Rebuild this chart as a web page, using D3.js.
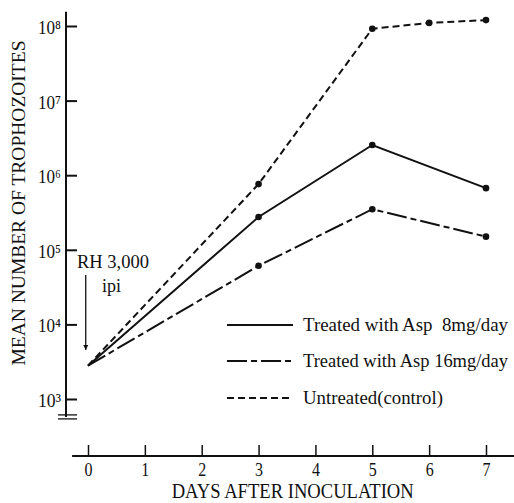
<!DOCTYPE html>
<html>
<head>
<meta charset="utf-8">
<script src="https://cdn.jsdelivr.net/npm/d3@7"></script>
<style>
  body { margin: 0; background: #fff; }
  text { font-family: "Liberation Serif", "DejaVu Serif", serif; fill: #111; white-space: pre; }
</style>
</head>
<body>
<div id="chart"></div>
<script>
// data
const days = [0, 3, 5, 6, 7];
const untreated = [2800, 760000, 92000000, 110000000, 120000000];
const asp8Days = [0, 3, 5, 7];
const asp8 = [2800, 275000, 2540000, 670000];
const asp16Days = [0, 3, 5, 7];
const asp16 = [2800, 61000, 350000, 150000];
const yTicks = [3, 4, 5, 6, 7, 8];
const xTicks = [0, 1, 2, 3, 4, 5, 6, 7];
const legendLabels = ["Treated with Asp  8mg/day", "Treated with Asp 16mg/day", "Untreated(control)"];

const width = 514;
const height = 503;
const sup = "⁰¹²³⁴⁵⁶⁷⁸⁹";

const xScale = d3.scaleLinear().domain([0, 7]).range([88, 486]);
const yScale = d3.scaleLog().domain([1e3, 1e8]).range([399, 26]);

const svg = d3.select("#chart")
    .append("svg")
    .attr("width", width)
    .attr("height", height);

// y axis, ticks point into the plot
const yAxis = svg.append("g")
    .attr("transform", "translate(66,0)")
    .call(d3.axisLeft(yScale)
        .tickValues(yTicks.map(e => Math.pow(10, e)))
        .tickSizeInner(-11)
        .tickSizeOuter(0)
        .tickFormat(""));
yAxis.select(".domain").remove();
yAxis.selectAll(".tick line").attr("stroke", "#111").attr("stroke-width", 2);

const yTop = yScale(Math.pow(10, 8.19));
const yBot = yScale(Math.pow(10, 2.76));
svg.append("line")
    .attr("x1", 66).attr("x2", 66)
    .attr("y1", yTop).attr("y2", yBot)
    .attr("stroke", "#111").attr("stroke-width", 2);
// break mark at the bottom
[yBot - 2, yBot + 2].forEach(y => {
  svg.append("line")
      .attr("x1", 58).attr("x2", 77)
      .attr("y1", y).attr("y2", y)
      .attr("stroke", "#111").attr("stroke-width", 1.3);
});

// tick labels 10^n
yTicks.forEach(e => {
  svg.append("text")
      .attr("x", 38)
      .attr("y", yScale(Math.pow(10, e)) + 8)
      .attr("font-size", 19)
      .attr("textLength", 23)
      .attr("lengthAdjust", "spacingAndGlyphs")
      .text("10" + sup[e]);
});

svg.append("text")
    .attr("transform", "translate(25,203) rotate(-90)")
    .attr("text-anchor", "middle")
    .attr("font-size", 18)
    .attr("textLength", 325)
    .attr("lengthAdjust", "spacingAndGlyphs")
    .text("MEAN NUMBER OF TROPHOZOITES");

// x axis, ticks point up
const xAxis = svg.append("g")
    .attr("transform", "translate(0,456)")
    .call(d3.axisBottom(xScale)
        .tickValues(xTicks)
        .tickSizeInner(-11)
        .tickSizeOuter(0)
        .tickPadding(7)
        .tickFormat(d3.format("d")));
xAxis.select(".domain").remove();
xAxis.selectAll(".tick line").attr("stroke", "#111").attr("stroke-width", 1.5);
xAxis.selectAll(".tick text")
    .attr("font-size", 19)
    .attr("fill", "#111")
    .attr("textLength", 8)
    .attr("lengthAdjust", "spacingAndGlyphs");
svg.append("line")
    .attr("x1", xScale(-0.28)).attr("x2", width)
    .attr("y1", 456).attr("y2", 456)
    .attr("stroke", "#111").attr("stroke-width", 2);

svg.append("text")
    .attr("x", xScale(3.6))
    .attr("y", 498)
    .attr("text-anchor", "middle")
    .attr("font-size", 20)
    .attr("textLength", 242)
    .attr("lengthAdjust", "spacingAndGlyphs")
    .text("DAYS AFTER INOCULATION");

// series
const series = [
  { x: asp8Days, y: asp8, dash: null },
  { x: asp16Days, y: asp16, dash: "20,4,6,4" },
  { x: days, y: untreated, dash: "7,4" }
];

const line = d3.line()
    .x(d => xScale(d[0]))
    .y(d => yScale(d[1]));

series.forEach(s => {
  const pts = s.x.map((d, i) => [d, s.y[i]]);
  svg.append("path")
      .datum(pts)
      .attr("d", line)
      .attr("fill", "none")
      .attr("stroke", "#111")
      .attr("stroke-width", 2)
      .attr("stroke-dasharray", s.dash);
  svg.selectAll(null)
      .data(pts.slice(1))
      .enter()
      .append("circle")
      .attr("cx", d => xScale(d[0]))
      .attr("cy", d => yScale(d[1]))
      .attr("r", 3.3)
      .attr("fill", "#111");
});

// inoculation arrow
svg.append("defs").append("marker")
    .attr("id", "arr")
    .attr("viewBox", "0 0 10 10")
    .attr("refX", 10).attr("refY", 5)
    .attr("markerWidth", 5).attr("markerHeight", 9)
    .attr("orient", "auto")
    .attr("markerUnits", "userSpaceOnUse")
    .append("path")
    .attr("d", "M0,0 L10,5 L0,10 Z")
    .attr("fill", "#111");
svg.append("line")
    .attr("x1", xScale(-0.04)).attr("x2", xScale(-0.04))
    .attr("y1", 275).attr("y2", 350)
    .attr("stroke", "#111").attr("stroke-width", 1.3)
    .attr("marker-end", "url(#arr)");
svg.append("text")
    .attr("x", 77).attr("y", 268)
    .attr("font-size", 19)
    .attr("textLength", 72)
    .attr("lengthAdjust", "spacingAndGlyphs")
    .text("RH 3,000");
svg.append("text")
    .attr("x", 102).attr("y", 292)
    .attr("font-size", 18)
    .text("ipi");

// legend
const legendY = [325, 361, 398];
const legendDash = [null, "20,4,6,4", "7,4"];
const legendLen = [205, 205, 140];
legendLabels.forEach((lab, i) => {
  svg.append("line")
      .attr("x1", 227).attr("x2", 293)
      .attr("y1", legendY[i]).attr("y2", legendY[i])
      .attr("stroke", "#111").attr("stroke-width", 2)
      .attr("stroke-dasharray", legendDash[i]);
  svg.append("text")
      .attr("x", 303)
      .attr("y", legendY[i] + 6)
      .attr("font-size", 18)
      .attr("textLength", legendLen[i])
      .attr("lengthAdjust", "spacingAndGlyphs")
      .text(lab);
});
</script>
</body>
</html>
